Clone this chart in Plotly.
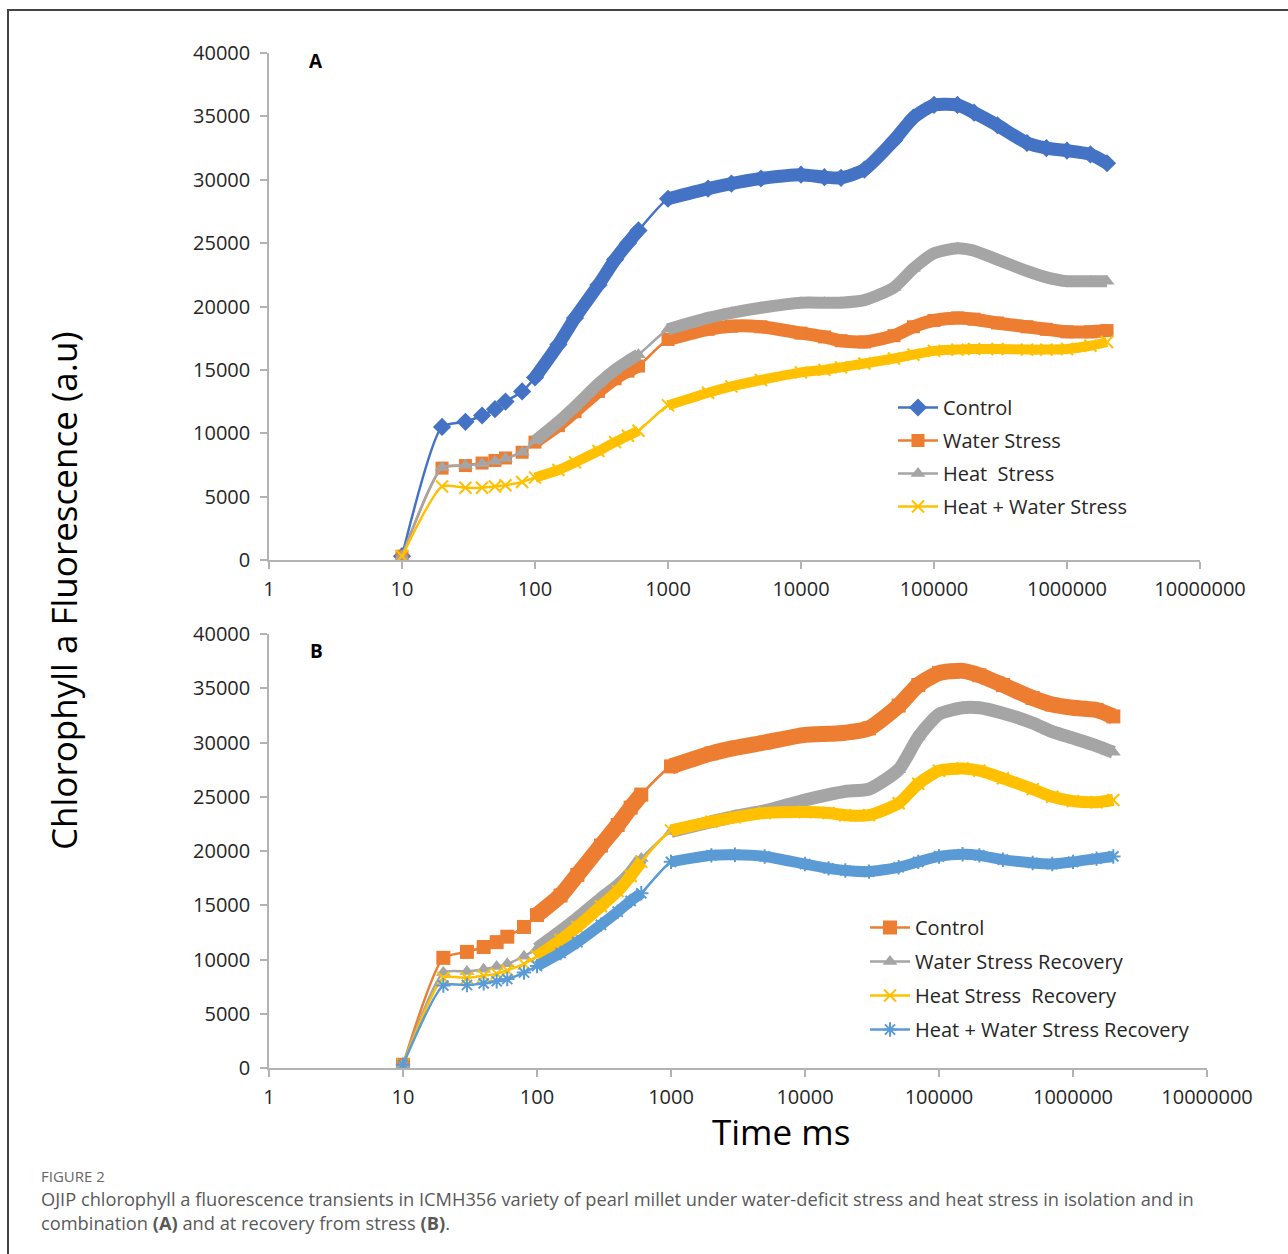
import plotly.graph_objects as go

# OJIP transient sampling times (ms)
TIME = [10, 20, 30, 40, 50, 60, 80, 100, 150, 200, 300, 400, 500, 600,
        1000, 2000, 3000, 5000, 10000, 15000, 20000, 30000, 50000, 70000,
        100000, 150000, 200000, 300000, 500000, 700000, 1000000, 1500000, 2000000]

# Panel A: stress treatments
A_CONTROL = [300, 10500, 10900, 11400, 11900, 12500, 13300, 14400, 17000, 19100, 21700, 23700, 25000, 26000,
             28500, 29300, 29700, 30100, 30400, 30200, 30150, 30800, 33100, 34900,
             35900, 35900, 35300, 34300, 32900, 32500, 32300, 32000, 31300]
A_WATER = [300, 7250, 7450, 7650, 7850, 8050, 8500, 9300, 10600, 11700, 13300, 14300, 14900, 15300,
           17400, 18200, 18450, 18400, 17900, 17600, 17300, 17200, 17700, 18400,
           18900, 19100, 19000, 18700, 18400, 18200, 18000, 18000, 18100]
A_HEAT = [300, 7300, 7450, 7600, 7800, 8000, 8500, 9400, 10900, 12100, 13900, 15000, 15700, 16200,
          18200, 19100, 19500, 19900, 20300, 20300, 20300, 20500, 21500, 23000,
          24200, 24600, 24400, 23700, 22800, 22300, 22000, 22000, 22000]
A_HEAT_WATER = [300, 5800, 5700, 5700, 5800, 5900, 6150, 6500, 7100, 7700, 8600, 9300, 9800, 10200,
                12200, 13200, 13700, 14200, 14800, 15000, 15200, 15500, 15900, 16200,
                16500, 16600, 16650, 16650, 16600, 16600, 16650, 16900, 17200]

# Panel B: recovery from stress
B_CONTROL = [300, 10150, 10700, 11150, 11600, 12100, 13000, 14100, 15900, 17800, 20500, 22400, 24000, 25200,
             27800, 29000, 29500, 30000, 30700, 30800, 30900, 31300, 33400, 35300,
             36400, 36600, 36200, 35300, 34100, 33500, 33200, 33000, 32400]
B_WATER_REC = [300, 8800, 8900, 9100, 9350, 9600, 10300, 11000, 12600, 13800, 15600, 16800, 18000, 19300,
               21800, 22700, 23200, 23700, 24700, 25200, 25500, 25700, 27500, 30500,
               32600, 33200, 33200, 32700, 31800, 31000, 30400, 29700, 29100]
B_HEAT_REC = [300, 8300, 8300, 8500, 8700, 9000, 9600, 10300, 11800, 13000, 14900, 16300, 17700, 19000,
              21900, 22700, 23100, 23500, 23600, 23500, 23300, 23300, 24400, 26200,
              27400, 27600, 27400, 26700, 25700, 25000, 24600, 24500, 24700]
B_HEAT_WATER_REC = [300, 7600, 7650, 7800, 8000, 8200, 8800, 9400, 10600, 11600, 13200, 14400, 15400, 16100,
                    19000, 19600, 19650, 19500, 18800, 18400, 18200, 18100, 18500, 19000,
                    19500, 19700, 19600, 19200, 18900, 18800, 19000, 19300, 19500]

X_TICKS = [1, 10, 100, 1000, 10000, 100000, 1000000, 10000000]
X_TICK_TEXT = ["1", "10", "100", "1000", "10000", "100000", "1000000", "10000000"]
Y_TICKS = [0, 5000, 10000, 15000, 20000, 25000, 30000, 35000, 40000]

W, H = 1288, 1254
FONT = "Open Sans, DejaVu Sans, sans-serif"
AXIS_GREY = "#b3b3b3"
TEXT = "#262626"

BLUE = "#4472C4"
ORANGE = "#ED7D31"
GREY = "#A5A5A5"
GOLD = "#FFC000"
SKY = "#5B9BD5"


def px_x(p):
    return p / W


def px_y(p):
    return 1 - p / H


fig = go.Figure()


def dense_segments(t, y):
    """Split the densely sampled stretches (100-600 ms and >=1000 ms) with a gap."""
    xs, ys = [], []
    for ti, yi in zip(t, y):
        if 100 <= ti <= 600:
            xs.append(ti); ys.append(yi)
    xs.append(None); ys.append(None)
    for ti, yi in zip(t, y):
        if ti >= 1000:
            xs.append(ti); ys.append(yi)
    return xs, ys


def add_series(name, values, color, symbol, msize, band, xa, ya, legend, open_marker=False):
    bx, by = dense_segments(TIME, values)
    fig.add_trace(go.Scatter(
        x=bx, y=by, mode="lines", xaxis=xa, yaxis=ya,
        line=dict(color=color, width=band, shape="spline", smoothing=0.6),
        connectgaps=False, showlegend=False, hoverinfo="skip"))
    if open_marker:
        marker = dict(symbol=symbol, size=msize, color=color,
                      line=dict(color=color, width=2))
    else:
        marker = dict(symbol=symbol, size=msize, color=color, line=dict(width=0))
    fig.add_trace(go.Scatter(
        x=TIME, y=values, name=name, mode="lines+markers", xaxis=xa, yaxis=ya,
        line=dict(color=color, width=2.5, shape="spline", smoothing=0.6),
        marker=marker, legend=legend, legendgroup=name + legend))


add_series("Control", A_CONTROL, BLUE, "diamond", 14, 13, "x", "y", "legend")
add_series("Water Stress", A_WATER, ORANGE, "square", 13, 13, "x", "y", "legend")
add_series("Heat  Stress", A_HEAT, GREY, "triangle-up", 13, 12, "x", "y", "legend")
add_series("Heat + Water Stress", A_HEAT_WATER, GOLD, "x-thin-open", 12, 10, "x", "y", "legend",
           open_marker=True)

add_series("Control", B_CONTROL, ORANGE, "square", 14, 16, "x2", "y2", "legend2")
add_series("Water Stress Recovery", B_WATER_REC, GREY, "triangle-up", 13, 13, "x2", "y2", "legend2")
add_series("Heat Stress  Recovery", B_HEAT_REC, GOLD, "x-thin-open", 12, 12, "x2", "y2", "legend2",
           open_marker=True)
add_series("Heat + Water Stress Recovery", B_HEAT_WATER_REC, SKY, "asterisk-open", 12, 11, "x2", "y2",
           "legend2", open_marker=True)

xaxis_common = dict(
    type="log", range=[0, 7], tickvals=X_TICKS, ticktext=X_TICK_TEXT,
    showline=True, linecolor=AXIS_GREY, linewidth=1.5, ticks="outside",
    ticklen=7, tickcolor=AXIS_GREY, tickwidth=1.5, showgrid=False, zeroline=False,
    tickfont=dict(family=FONT, size=20, color=TEXT), ticklabelstandoff=3,
    automargin=False)
yaxis_common = dict(
    range=[0, 40000], tickvals=Y_TICKS, ticktext=[str(v) for v in Y_TICKS],
    showline=True, linecolor=AXIS_GREY, linewidth=1.5, ticks="outside",
    ticklen=7, tickcolor=AXIS_GREY, tickwidth=1.5, showgrid=False, zeroline=False,
    tickfont=dict(family=FONT, size=20, color=TEXT), ticklabelstandoff=6,
    automargin=False)

fig.update_layout(
    width=W, height=H,
    margin=dict(l=0, r=0, t=0, b=0),
    paper_bgcolor="white", plot_bgcolor="white",
    font=dict(family=FONT, color=TEXT),
    xaxis=dict(domain=[px_x(269), px_x(1200)], anchor="y", **xaxis_common),
    yaxis=dict(domain=[px_y(560), px_y(53)], anchor="x", **yaxis_common),
    xaxis2=dict(domain=[px_x(269), px_x(1207)], anchor="y2", **xaxis_common),
    yaxis2=dict(domain=[px_y(1068), px_y(634)], anchor="x2", **yaxis_common),
    legend=dict(x=px_x(893), y=px_y(388), xanchor="left", yanchor="top",
                font=dict(family=FONT, size=20, color=TEXT), bgcolor="rgba(0,0,0,0)",
                tracegroupgap=4, itemwidth=40),
    legend2=dict(x=px_x(865), y=px_y(908), xanchor="left", yanchor="top",
                 font=dict(family=FONT, size=20, color=TEXT), bgcolor="rgba(0,0,0,0)",
                 tracegroupgap=5, itemwidth=40),
    showlegend=True,
)


def label(text, x, y, size, color, xanchor="center", angle=0):
    return dict(text=text, x=px_x(x), y=px_y(y), xref="paper", yref="paper",
                xanchor=xanchor, yanchor="middle", textangle=angle, showarrow=False,
                font=dict(family=FONT, size=size, color=color))


annotations = [
    label("<b>A</b>", 316, 61, 19, "#000"),
    label("<b>B</b>", 316, 651, 19, "#000"),
    label("Chlorophyll a Fluorescence (a.u)", 63, 591, 35, "#000", angle=-90),
    label("Time ms", 781, 1131, 35, "#000"),
    label("FIGURE 2", 39, 1176, 15, "#666", xanchor="left"),
    label("OJIP chlorophyll a fluorescence transients in ICMH356 variety of pearl millet under "
          "water-deficit stress and heat stress in isolation and in", 39, 1198, 18.25, "#595959",
          xanchor="left"),
    label("combination <b>(A)</b> and at recovery from stress <b>(B)</b>.", 39, 1222, 18.25, "#595959",
          xanchor="left"),
]
fig.update_layout(annotations=annotations)

# Frame around the figure panel
fig.add_shape(type="line", xref="paper", yref="paper", x0=px_x(7), x1=1, y0=px_y(10), y1=px_y(10),
              line=dict(color="#444", width=2))
fig.add_shape(type="line", xref="paper", yref="paper", x0=px_x(8), x1=px_x(8), y0=px_y(10), y1=0,
              line=dict(color="#444", width=2))

fig.write_html("out.html")
